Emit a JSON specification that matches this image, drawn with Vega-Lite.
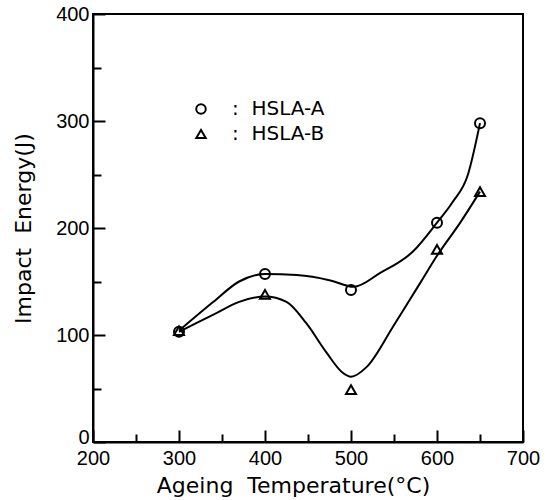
{
  "$schema": "https://vega.github.io/schema/vega-lite/v6.json",
  "width": 430,
  "height": 428,
  "autosize": {"type": "none"},
  "padding": {"left": 93, "top": 14, "right": 26, "bottom": 58},
  "background": "white",
  "config": {
    "view": {"stroke": "black", "strokeWidth": 2},
    "font": "Liberation Sans",
    "axis": {
      "domainColor": "black",
      "domainWidth": 2,
      "tickColor": "black",
      "tickWidth": 2,
      "labelColor": "black",
      "labelFont": "Liberation Sans",
      "labelFontSize": 20,
      "titleFont": "DejaVu Sans",
      "titleFontSize": 22,
      "titleFontWeight": "normal",
      "titleColor": "black",
      "grid": false
    }
  },
  "datasets": {
    "points": [
      {"temp": 300, "energy": 103, "steel": "HSLA-A"},
      {"temp": 400, "energy": 157, "steel": "HSLA-A"},
      {"temp": 500, "energy": 142, "steel": "HSLA-A"},
      {"temp": 600, "energy": 205, "steel": "HSLA-A"},
      {"temp": 650, "energy": 298, "steel": "HSLA-A"},
      {"temp": 300, "energy": 104, "steel": "HSLA-B"},
      {"temp": 400, "energy": 138, "steel": "HSLA-B"},
      {"temp": 500, "energy": 49, "steel": "HSLA-B"},
      {"temp": 600, "energy": 180, "steel": "HSLA-B"},
      {"temp": 650, "energy": 234, "steel": "HSLA-B"}
    ],
    "curves": [
      {"temp": 300, "energy": 104, "steel": "HSLA-A"},
      {"temp": 340, "energy": 131, "steel": "HSLA-A"},
      {"temp": 370, "energy": 150, "steel": "HSLA-A"},
      {"temp": 400, "energy": 157, "steel": "HSLA-A"},
      {"temp": 437, "energy": 156, "steel": "HSLA-A"},
      {"temp": 476, "energy": 151, "steel": "HSLA-A"},
      {"temp": 503, "energy": 145, "steel": "HSLA-A"},
      {"temp": 534, "energy": 158, "steel": "HSLA-A"},
      {"temp": 572, "energy": 178, "steel": "HSLA-A"},
      {"temp": 600, "energy": 205, "steel": "HSLA-A"},
      {"temp": 618, "energy": 224, "steel": "HSLA-A"},
      {"temp": 636, "energy": 250, "steel": "HSLA-A"},
      {"temp": 650, "energy": 298, "steel": "HSLA-A"},
      {"temp": 300, "energy": 103, "steel": "HSLA-B"},
      {"temp": 340, "energy": 119, "steel": "HSLA-B"},
      {"temp": 370, "energy": 131, "steel": "HSLA-B"},
      {"temp": 400, "energy": 136, "steel": "HSLA-B"},
      {"temp": 425, "energy": 131, "steel": "HSLA-B"},
      {"temp": 448, "energy": 111, "steel": "HSLA-B"},
      {"temp": 472, "energy": 83, "steel": "HSLA-B"},
      {"temp": 490, "energy": 65, "steel": "HSLA-B"},
      {"temp": 500, "energy": 61, "steel": "HSLA-B"},
      {"temp": 518, "energy": 70, "steel": "HSLA-B"},
      {"temp": 549, "energy": 108, "steel": "HSLA-B"},
      {"temp": 580, "energy": 148, "steel": "HSLA-B"},
      {"temp": 600, "energy": 174, "steel": "HSLA-B"},
      {"temp": 627, "energy": 205, "steel": "HSLA-B"},
      {"temp": 650, "energy": 234, "steel": "HSLA-B"}
    ]
  },
  "encoding": {
    "x": {
      "field": "temp",
      "type": "quantitative",
      "scale": {"domain": [200, 700], "nice": false, "zero": false},
      "axis": {
        "title": "Ageing\u00a0\u00a0Temperature(°C)",
        "values": [200, 250, 300, 350, 400, 450, 500, 550, 600, 650, 700],
        "labelExpr": "datum.value % 100 === 0 ? datum.label : ''",
        "tickSize": {"condition": {"test": "datum.value % 100 === 0", "value": -12}, "value": -8},
        "labelPadding": 18,
        "titlePadding": 7,
        "titleX": 200,
        "labelFlush": false
      }
    },
    "y": {
      "field": "energy",
      "type": "quantitative",
      "scale": {"domain": [0, 400], "nice": false},
      "axis": {
        "title": "Impact\u00a0\u00a0Energy(J)",
        "values": [0, 50, 100, 150, 200, 250, 300, 350, 400],
        "labelExpr": "datum.value % 100 === 0 ? datum.label : ''",
        "tickSize": {"condition": {"test": "datum.value % 100 === 0", "value": -12}, "value": -8},
        "labelOffset": {"condition": {"test": "datum.value === 0", "value": -5}, "value": 0},
        "labelPadding": 16,
        "titlePadding": 20,
        "labelFlush": false
      }
    }
  },
  "layer": [
    {
      "data": {"name": "curves"},
      "mark": {"type": "line", "interpolate": "monotone", "color": "black", "strokeWidth": 2},
      "encoding": {"detail": {"field": "steel", "type": "nominal"}}
    },
    {
      "data": {"name": "points"},
      "mark": {"type": "point", "filled": false, "color": "black", "opacity": 1, "strokeWidth": 2, "size": 100},
      "encoding": {
        "shape": {
          "field": "steel",
          "type": "nominal",
          "scale": {"domain": ["HSLA-A", "HSLA-B"], "range": ["circle", "triangle-up"]},
          "legend": {
            "title": null,
            "orient": "none",
            "legendX": 98,
            "legendY": 85,
            "labelExpr": "':\u00a0\u00a0' + datum.label",
            "labelFont": "DejaVu Sans",
            "labelFontSize": 20,
            "labelColor": "black",
            "labelOffset": 21,
            "rowPadding": 5,
            "symbolStrokeColor": "black",
            "symbolStrokeWidth": 2,
            "symbolOpacity": 1,
            "symbolSize": 90
          }
        }
      }
    }
  ]
}
